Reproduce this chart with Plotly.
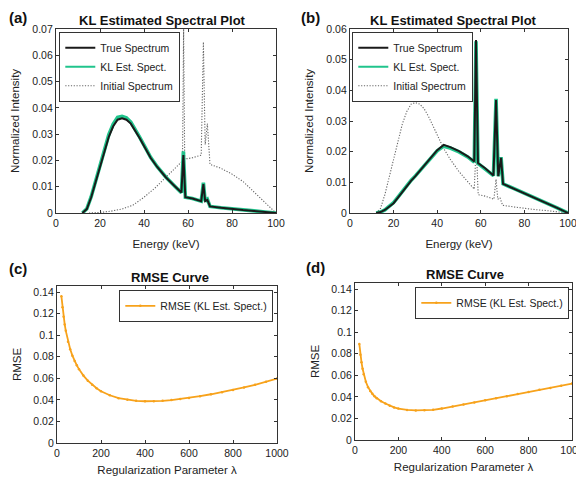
import plotly.graph_objects as go

# ---------------- data ----------------
# Panel (a)
energy_a = [12, 14, 16, 18, 20, 22, 24, 26, 28, 30, 32, 34, 36, 38, 40, 43, 46, 50, 54, 57,
            57.9, 58.8, 62, 66, 67, 67.8, 68.8, 69.6, 70, 75, 80, 85, 90, 95, 100]
true_a = [0, 0.0015, 0.006, 0.012, 0.018, 0.024, 0.029, 0.033, 0.0355, 0.036, 0.0355, 0.034,
          0.0315, 0.0285, 0.0255, 0.021, 0.0175, 0.0135, 0.0102, 0.0078,
          0.022, 0.006, 0.0055, 0.0045, 0.011, 0.0045, 0.005, 0.0032, 0.0025, 0.002, 0.0015,
          0.0011, 0.0008, 0.0004, 0]
kl_a = [0, 0.0016, 0.0062, 0.0124, 0.0185, 0.0247, 0.0298, 0.0338, 0.0364, 0.0368, 0.0362, 0.0346,
        0.032, 0.0289, 0.0258, 0.0212, 0.0176, 0.0136, 0.0102, 0.0077,
        0.0235, 0.006, 0.0055, 0.0045, 0.0115, 0.0045, 0.0052, 0.0032, 0.0025, 0.002, 0.0015,
        0.0011, 0.0008, 0.0004, 0]
energy_init_a = [15, 20, 25, 30, 35, 40, 45, 50, 55, 57.5, 58, 58.5, 62, 66, 67, 67.8, 68.8, 70,
                 75, 80, 85, 90, 95, 100]
init_a = [0, 0.0002, 0.0007, 0.0015, 0.003, 0.006, 0.0095, 0.0135, 0.0175, 0.0198, 0.07, 0.0205,
          0.021, 0.022, 0.065, 0.026, 0.034, 0.0185, 0.017, 0.0148, 0.012, 0.008, 0.0038, 0]

# Panel (b)
energy_b = [12, 14, 16, 18, 20, 22, 25, 28, 30, 33, 36, 40, 43, 46, 50, 54, 57,
            57.8, 58.7, 62, 65.8, 67, 68, 69.3, 70.2, 75, 80, 85, 90, 95, 100]
true_b = [0, 0.0003, 0.001, 0.002, 0.0032, 0.005, 0.0078, 0.0105, 0.012, 0.0145, 0.017, 0.0205,
          0.0222, 0.0215, 0.0202, 0.0185, 0.0168,
          0.0564, 0.0163, 0.0146, 0.0122, 0.0368, 0.012, 0.018, 0.0095, 0.008, 0.0065, 0.005,
          0.0033, 0.0017, 0]
kl_b = [0, 0.0003, 0.001, 0.0021, 0.0034, 0.0052, 0.008, 0.0106, 0.0121, 0.0146, 0.0171, 0.0203,
        0.0218, 0.0212, 0.0199, 0.0183, 0.0166,
        0.056, 0.0162, 0.0145, 0.0122, 0.0372, 0.012, 0.0182, 0.0095, 0.008, 0.0065, 0.005,
        0.0033, 0.0017, 0]
energy_init_b = energy_a
init_b = true_a

# Panel (c) and (d)
lam_c = [20, 25, 30, 35, 40, 50, 60, 70, 80, 90, 100, 120, 140, 160, 180, 200, 240, 280, 320,
         360, 400, 440, 480, 520, 560, 600, 650, 700, 750, 800, 850, 900, 950, 1000]
rmse_c = [0.136, 0.126, 0.117, 0.110, 0.104, 0.094, 0.087, 0.081, 0.076, 0.072, 0.0685, 0.0625,
          0.0578, 0.054, 0.0508, 0.048, 0.0443, 0.0416, 0.0400, 0.0391, 0.0387, 0.0387, 0.0391,
          0.0398, 0.0407, 0.0418, 0.0434, 0.0452, 0.0471, 0.0492, 0.0515, 0.054, 0.0567, 0.0598]
lam_d = [20, 25, 30, 35, 40, 50, 60, 70, 80, 90, 100, 120, 140, 160, 180, 200, 240, 280, 320,
         360, 400, 450, 500, 550, 600, 650, 700, 750, 800, 850, 900, 950, 1000]
rmse_d = [0.089, 0.079, 0.072, 0.066, 0.061, 0.054, 0.049, 0.0455, 0.0428, 0.0406, 0.0388, 0.036,
          0.0338, 0.0318, 0.0302, 0.0291, 0.0279, 0.0274, 0.0275, 0.028, 0.0292, 0.031, 0.0329,
          0.0348, 0.0368, 0.0387, 0.0406, 0.0426, 0.0446, 0.0465, 0.0483, 0.0503, 0.0523]

energy_ticks = [0, 20, 40, 60, 80, 100]
lam_ticks = [0, 200, 400, 600, 800, 1000]
ticks_a = [0, 0.01, 0.02, 0.03, 0.04, 0.05, 0.06, 0.07]
ticks_b = [0, 0.01, 0.02, 0.03, 0.04, 0.05, 0.06]
ticks_rmse = [0, 0.02, 0.04, 0.06, 0.08, 0.1, 0.12, 0.14]

# ---------------- styling ----------------
# the page body has an 8px margin, so the figure is 8px smaller and offset by 8px
OFF = 8
W, H = 584 - OFF, 479 - OFF
FONT = "Liberation Sans, Arial, Helvetica, sans-serif"
BLACK = "#1a1a1a"
GREEN = "#20c48c"
DOT = "#666666"
ORANGE = "#f7a21b"
AX = "#333333"


def px(x):
    return (x - OFF) / W


def py(y):
    return 1 - (y - OFF) / H


fig = go.Figure()


def spectrum(xa, ya, lg, e, t, k, ei, ini):
    fig.add_trace(go.Scatter(x=ei, y=ini, mode="lines", name="Initial Spectrum",
                             line=dict(color=DOT, width=1.1, dash="1.2px,1.6px"),
                             xaxis=xa, yaxis=ya, legend=lg, legendrank=3))
    fig.add_trace(go.Scatter(x=e, y=k, mode="lines", name="KL Est. Spect.",
                             line=dict(color=GREEN, width=3.6), showlegend=False,
                             xaxis=xa, yaxis=ya, legend=lg))
    # legend-only sample with thin line
    fig.add_trace(go.Scatter(x=[None], y=[None], mode="lines", name="KL Est. Spect.",
                             line=dict(color=GREEN, width=2),
                             xaxis=xa, yaxis=ya, legend=lg, legendrank=2))
    fig.add_trace(go.Scatter(x=e, y=t, mode="lines", name="True Spectrum",
                             line=dict(color=BLACK, width=2),
                             xaxis=xa, yaxis=ya, legend=lg, legendrank=1))


spectrum("x", "y", "legend", energy_a, true_a, kl_a, energy_init_a, init_a)
spectrum("x2", "y2", "legend2", energy_b, true_b, kl_b, energy_init_b, init_b)

fig.add_trace(go.Scatter(x=lam_c, y=rmse_c, mode="lines+markers", name="RMSE (KL Est. Spect.)",
                         line=dict(color=ORANGE, width=1.8),
                         marker=dict(color=ORANGE, size=2.5),
                         xaxis="x3", yaxis="y3", legend="legend3"))
fig.add_trace(go.Scatter(x=lam_d, y=rmse_d, mode="lines+markers", name="RMSE (KL Est. Spect.)",
                         line=dict(color=ORANGE, width=1.8),
                         marker=dict(color=ORANGE, size=2.5),
                         xaxis="x4", yaxis="y4", legend="legend4"))

axis_common = dict(showline=True, linecolor=AX, linewidth=1.2, mirror="ticks", ticks="inside",
                   ticklen=3, tickcolor=AX, showgrid=False, zeroline=False, automargin=True,
                   tickfont=dict(family=FONT, size=10.5, color="#222"),
                   title_font=dict(family=FONT, size=11.5, color="#222"))

doms = {
    "a": ([px(56), px(276)], [py(213), py(29)]),
    "b": ([px(350), px(568)], [py(213), py(29)]),
    "c": ([px(57), px(277)], [py(443), py(286)]),
    "d": ([px(355), px(572)], [py(440), py(283)]),
}

fig.update_layout(
    xaxis=dict(domain=doms["a"][0], anchor="y", range=[0, 100], tickvals=energy_ticks,
               title=dict(text="Energy (keV)", standoff=12), **axis_common),
    yaxis=dict(domain=doms["a"][1], anchor="x", range=[0, 0.07], tickvals=ticks_a,
               ticktext=[f"{v:g}" for v in ticks_a],
               title=dict(text="Normalized Intensity", standoff=10), **axis_common),
    xaxis2=dict(domain=doms["b"][0], anchor="y2", range=[0, 100], tickvals=energy_ticks,
                title=dict(text="Energy (keV)", standoff=12), **axis_common),
    yaxis2=dict(domain=doms["b"][1], anchor="x2", range=[0, 0.06], tickvals=ticks_b,
                ticktext=[f"{v:g}" for v in ticks_b],
                title=dict(text="Normalized Intensity", standoff=10), **axis_common),
    xaxis3=dict(domain=doms["c"][0], anchor="y3", range=[0, 1000], tickvals=lam_ticks,
                title=dict(text="Regularization Parameter λ", standoff=8), **axis_common),
    yaxis3=dict(domain=doms["c"][1], anchor="x3", range=[0, 0.1456], tickvals=ticks_rmse,
                ticktext=[f"{v:g}" for v in ticks_rmse],
                title=dict(text="RMSE", standoff=9), **axis_common),
    xaxis4=dict(domain=doms["d"][0], anchor="y4", range=[0, 1000], tickvals=lam_ticks,
                ticklabeloverflow="allow",
                title=dict(text="Regularization Parameter λ", standoff=8), **axis_common),
    yaxis4=dict(domain=doms["d"][1], anchor="x4", range=[0, 0.1456], tickvals=ticks_rmse,
                ticktext=[f"{v:g}" for v in ticks_rmse],
                title=dict(text="RMSE", standoff=9), **axis_common),
)

leg_common = dict(bgcolor="white", bordercolor=AX, borderwidth=1.3,
                  font=dict(family=FONT, size=10.5, color="#222"),
                  itemwidth=30, tracegroupgap=0, traceorder="normal")
fig.update_layout(
    legend=dict(x=px(59), y=py(32), xanchor="left", yanchor="top", **leg_common),
    legend2=dict(x=px(352), y=py(32), xanchor="left", yanchor="top", **leg_common),
    legend3=dict(x=px(273), y=py(290), xanchor="right", yanchor="top", **leg_common),
    legend4=dict(x=px(569), y=py(287), xanchor="right", yanchor="top", **leg_common),
)

annots = [
    ("(a)", 18, 18, 15), ("(b)", 310, 18, 15), ("(c)", 18, 268, 15), ("(d)", 315, 267, 15),
    ("KL Estimated Spectral Plot", 162, 21, 13), ("KL Estimated Spectral Plot", 453, 21, 13),
    ("RMSE Curve", 170, 277, 13), ("RMSE Curve", 465, 274, 13),
]
for text, x, y, s in annots:
    fig.add_annotation(text=f"<b>{text}</b>", x=px(x), y=py(y), xref="paper", yref="paper",
                       showarrow=False, xanchor="center", yanchor="middle",
                       font=dict(family=FONT, size=s, color="#111"))

fig.update_layout(width=W, height=H, margin=dict(l=0, r=0, t=0, b=0, autoexpand=False),
                  paper_bgcolor="white", plot_bgcolor="white", showlegend=True)

fig.write_html("out.html")
